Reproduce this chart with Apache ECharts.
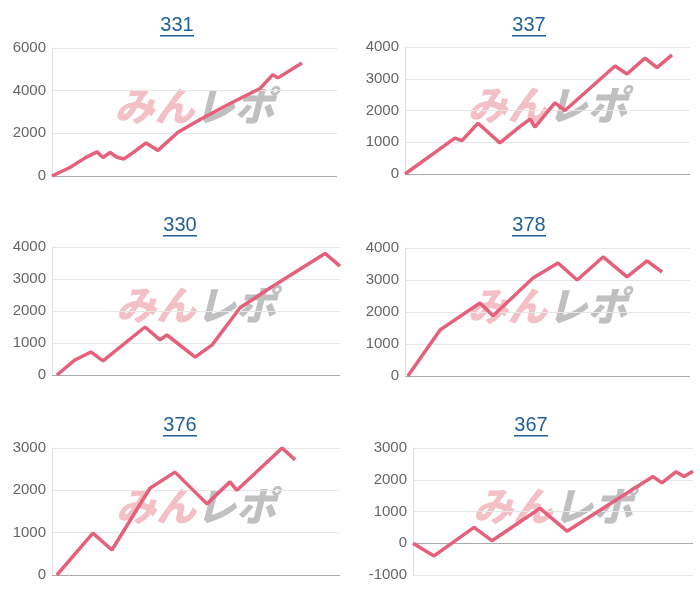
<!DOCTYPE html>
<html><head><meta charset="utf-8">
<script src="https://cdn.jsdelivr.net/npm/echarts@6/dist/echarts.min.js"></script>
<style>html,body{margin:0;padding:0;background:#fff}#c{width:700px;height:600px}</style>
</head><body><div id="c"></div>
<script>
const titles = ['331','337','330','378','376','367'];
const xs1 = [0,6.3,11.6,15.8,17.9,20.4,22.8,25.3,29,33,37.2,44.2,52,62.5,73,77.5,79.3,87.7];
const ys1 = [0,400,850,1130,870,1100,880,800,1150,1550,1200,2050,2650,3400,4100,4750,4600,5300];
const xs2 = [0,17.5,20,25.6,33.3,40.4,43.9,45.6,52.6,56.1,73.7,77.9,84.2,88.4,93.7];
const ys2 = [0,1130,1050,1600,980,1500,1730,1480,2240,2000,3400,3150,3650,3350,3750];
const xs3 = [1.7,8,13.5,17.7,32.3,37.5,39.9,49.7,55.6,65.3,75.7,94.8,100];
const ys3 = [0,470,720,440,1500,1100,1250,560,940,2100,2720,3800,3400];
const xs4 = [1,12.3,26.3,30.9,44.9,53.7,60.4,69.5,77.9,84.9,90.2];
const ys4 = [0,1440,2280,1880,3060,3530,3000,3720,3100,3600,3250];
const xs5 = [1.7,14.2,20.8,34,42.7,53.8,61.8,64.2,79.9,84.4];
const ys5 = [0,990,590,2050,2430,1680,2200,2000,3000,2720];
const xs6 = [0,7.5,21.8,28.2,45.4,55,85.7,88.9,93.9,96.8,100];
const ys6 = [0,-400,500,80,1100,380,2100,1900,2250,2100,2270];
const yMin = [0,0,0,0,0,-1000];
const yMax = [6000,4000,4000,4000,3000,3000];
const yStep = [2000,1000,1000,1000,1000,1000];
const XS=[xs1,xs2,xs3,xs4,xs5,xs6], YS=[ys1,ys2,ys3,ys4,ys5,ys6];
const grids = [
 {left:52,top:48,width:285,height:128},
 {left:405,top:47,width:285,height:127},
 {left:52,top:247,width:288,height:128},
 {left:405,top:248,width:285,height:128},
 {left:52,top:448,width:288,height:127},
 {left:413,top:448,width:280,height:127}];
const titleY=[25,25,225,225,425,425], titleX=[177,529,180,529,180,531];
const chart = echarts.init(document.getElementById('c'));
const graphic=[];
titles.forEach((t,i)=>{
  graphic.push({type:'text',x:titleX[i],y:titleY[i],style:{text:t,align:'center',verticalAlign:'middle',font:'20px Arial, "Liberation Sans"',fill:'#1f5f9a'}});
  graphic.push({type:'rect',shape:{x:titleX[i]-17,y:titleY[i]+10,width:34,height:1.5},style:{fill:'#1f5f9a'}});
  const g=grids[i];
  graphic.push({type:'text',x:g.left+g.width/2,y:g.top+g.height/2-6,style:{text:'{a|みん}{b|レポ}',align:'center',verticalAlign:'middle',
    rich:{a:{font:'italic 900 40px "Noto Sans CJK JP"',fill:'rgba(232,140,150,0.55)'},b:{font:'italic 900 40px "Noto Sans CJK JP"',fill:'rgba(150,150,150,0.6)'}}},z:0});
});
chart.setOption({
  animation:false,
  grid:grids,
  graphic,
  xAxis:grids.map((g,i)=>({type:'value',gridIndex:i,min:0,max:100,show:false})),
  yAxis:grids.map((g,i)=>({type:'value',gridIndex:i,min:yMin[i],max:yMax[i],interval:yStep[i],
    axisLine:{show:true,lineStyle:{color:'#e0e0e0'}},axisTick:{show:false},
    axisLabel:{color:'#666',fontSize:15,fontFamily:'Arial, "Liberation Sans"',margin:6,formatter:v=>String(v)},
    splitLine:{lineStyle:{color:'#e6e6e6'}}})),
  series:XS.map((xs,i)=>({type:'line',xAxisIndex:i,yAxisIndex:i,symbol:'none',z:5,
    data:xs.map((x,j)=>[x,YS[i][j]]),lineStyle:{color:'#e5607a',width:3.5},
    markLine:{silent:true,symbol:'none',label:{show:false},lineStyle:{color:'#aaa',type:'solid',width:1},data:[{yAxis:0}]}}))
});
</script></body></html>
